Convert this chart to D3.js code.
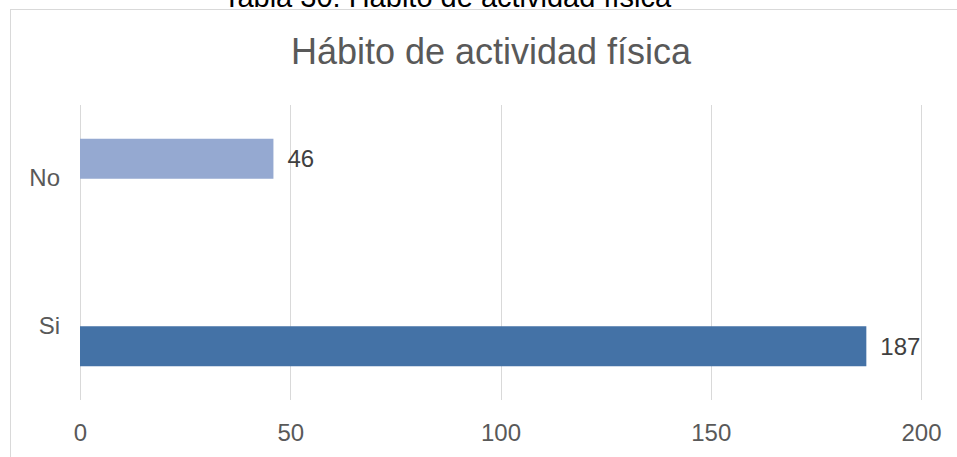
<!DOCTYPE html>
<html>
<head>
<meta charset="utf-8">
<script src="https://cdn.jsdelivr.net/npm/d3@7"></script>
<style>
  body { margin: 0; background: #fff; }
  svg text { font-family: "Liberation Sans", Arial, sans-serif; }
</style>
</head>
<body>
<div id="chart"></div>
<script>
var categories = ["No", "Si"];
var seriesNames = ["Serie 1", "Serie 2"];
var serie1 = [46, null];   // upper slot in each group
var serie2 = [null, 187];  // lower slot in each group
var serieColors = ["#95a9d1", "#4472a6"];
var xTicks = [0, 50, 100, 150, 200];

var caption = "Tabla 30: Hábito de actividad física";
var title = "Hábito de actividad física";

var width = 957, height = 457;
var margin = { top: 105, right: 35, bottom: 57, left: 80 };
var plotW = 921 - margin.left, plotH = 400 - margin.top;

var svg = d3.select("#chart").append("svg")
  .attr("width", width)
  .attr("height", height);

// caption above the chart frame (cut by the page top, like the source)
svg.append("text")
  .attr("x", 447)
  .attr("y", 7)
  .attr("text-anchor", "middle")
  .style("font-size", "29px")
  .style("fill", "#000")
  .text(caption);

// chart frame
svg.append("rect")
  .attr("x", 10.5).attr("y", 9.5)
  .attr("width", 1000).attr("height", 600)
  .attr("fill", "#fff")
  .attr("stroke", "#d9d9d9");

svg.append("text")
  .attr("x", 491)
  .attr("y", 64)
  .attr("text-anchor", "middle")
  .style("font-size", "36px")
  .style("fill", "#595959")
  .text(title);

var g = svg.append("g")
  .attr("transform", "translate(" + margin.left + "," + margin.top + ")");

var xScale = d3.scaleLinear().domain([0, 200]).range([0, plotW]);
var yScale = d3.scaleBand().domain(categories).range([0, plotH]).padding(0);
var ySub = d3.scaleBand().domain(seriesNames).range([0, yScale.bandwidth()])
  .paddingInner(0).paddingOuter(0.84375);

// gridlines
g.selectAll(".grid")
  .data(xTicks)
  .enter().append("line")
  .attr("class", "grid")
  .attr("x1", function(d) { return Math.round(xScale(d)) + 0.5; })
  .attr("x2", function(d) { return Math.round(xScale(d)) + 0.5; })
  .attr("y1", 0).attr("y2", plotH)
  .attr("stroke", "#d9d9d9")
  .attr("stroke-width", 1);

// x axis labels
var xAxis = g.append("g")
  .attr("transform", "translate(0," + plotH + ")")
  .call(d3.axisBottom(xScale).tickValues(xTicks).tickSize(0).tickPadding(24));
xAxis.select(".domain").remove();
xAxis.selectAll("text")
  .style("font-size", "24px")
  .style("fill", "#595959")
  .style("font-family", "'Liberation Sans', Arial, sans-serif");

// y axis labels
var yAxis = g.append("g")
  .call(d3.axisLeft(yScale).tickSize(0).tickPadding(20));
yAxis.select(".domain").remove();
yAxis.selectAll("text")
  .style("font-size", "24px")
  .style("fill", "#595959")
  .style("font-family", "'Liberation Sans', Arial, sans-serif");

var series = [serie1, serie2];
var rows = [];
series.forEach(function(vals, s) {
  vals.forEach(function(v, i) {
    if (v != null) rows.push({ cat: categories[i], serie: seriesNames[s], value: v, color: serieColors[s] });
  });
});

g.selectAll(".bar")
  .data(rows)
  .enter().append("rect")
  .attr("class", "bar")
  .attr("x", xScale(0))
  .attr("y", function(d) { return yScale(d.cat) + ySub(d.serie); })
  .attr("width", function(d) { return xScale(d.value) - xScale(0); })
  .attr("height", ySub.bandwidth())
  .attr("fill", function(d) { return d.color; });

g.selectAll(".val")
  .data(rows)
  .enter().append("text")
  .attr("class", "val")
  .attr("x", function(d) { return xScale(d.value) + 14; })
  .attr("y", function(d) { return yScale(d.cat) + ySub(d.serie) + ySub.bandwidth() / 2; })
  .attr("dy", "0.35em")
  .style("font-size", "24px")
  .style("fill", "#404040")
  .text(function(d) { return d.value; });
</script>
</body>
</html>
